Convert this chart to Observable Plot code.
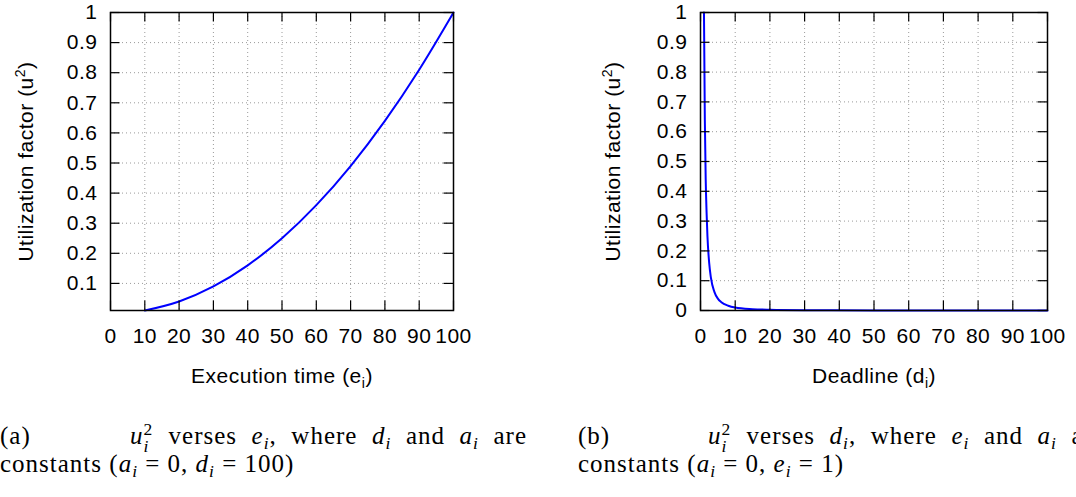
<!DOCTYPE html>
<html><head><meta charset="utf-8">
<script src="https://cdn.jsdelivr.net/npm/d3@7"></script>
<script src="https://cdn.jsdelivr.net/npm/@observablehq/plot@0.6"></script>
<style>
html,body{margin:0;padding:0;background:#fff;width:1076px;height:497px;overflow:hidden;}
#wrap{position:relative;width:1076px;height:497px;overflow:hidden;background:#fff;}
.panel{position:absolute;top:0;}
.cap{position:absolute;font-family:"Liberation Serif","Times New Roman",serif;font-size:25px;line-height:25px;color:#000;white-space:nowrap;letter-spacing:1px;}
.just{white-space:normal;text-align:justify;text-align-last:justify;}
.cap i{font-style:italic;}
.cap sub{font-size:0.7em;line-height:0;vertical-align:-0.3em;font-style:italic;}
.ss{position:relative;display:inline-block;width:0.42em;height:0;}
.ss .sp{position:absolute;left:0;bottom:0.3em;font-size:0.7em;line-height:1;}
.ss .sb{position:absolute;left:0;top:-0.35em;font-size:0.7em;line-height:1;font-style:italic;}
</style></head><body><div id="wrap"></div>
<script>
// ---- data ----
const executionTime = [10, 20, 30, 40, 50, 60, 70, 80, 90, 100];
const utilizationA  = [0.01, 0.04, 0.09, 0.16, 0.25, 0.36, 0.49, 0.64, 0.81, 1.0];
const deadline      = [1, 1.25, 1.5, 1.75, 2, 2.5, 3, 4, 5, 6, 8, 10, 15, 20, 30, 50, 100];
const utilizationB  = [1.0, 0.64, 0.44, 0.33, 0.25, 0.16, 0.11, 0.0625, 0.04, 0.028, 0.016, 0.01, 0.0045, 0.0025, 0.0011, 0.0004, 0.0001];
const xTicks  = [0, 10, 20, 30, 40, 50, 60, 70, 80, 90, 100];
const yTicksA = [0.1, 0.2, 0.3, 0.4, 0.5, 0.6, 0.7, 0.8, 0.9, 1];
const yTicksB = [0, 0.1, 0.2, 0.3, 0.4, 0.5, 0.6, 0.7, 0.8, 0.9, 1];
const yTitle  = "Utilization factor (u^2)";
const xTitleA = "Execution time (e_i)";
const xTitleB = "Deadline (d_i)";

function richify(svg) {
  d3.select(svg).selectAll("text").each(function () {
    const s = this.textContent;
    const m = s.match(/^(.*)([\^_])(\w)(.*)$/);
    if (!m) return;
    const up = m[2] === "^";
    const sh = up ? -8 : 5;
    this.innerHTML = `${m[1]}<tspan dy="${sh}" font-size="14">${m[3]}</tspan><tspan dy="${-sh}">${m[4]}</tspan>`;
  });
}

function panel({xs, ys, yTicks, yDomain, xTitle, width, marginLeft, marginRight, titleDx}) {
  const H = 400, mt = 12, mb = 90, T = 9.5;
  const fw = width - marginLeft - marginRight, fh = H - mt - mb;
  const data = xs.map((x, i) => ({x, u: ys[i]}));
  const ink = "#000";
  const svg = Plot.plot({
    width, height: H, marginLeft, marginRight, marginTop: mt, marginBottom: mb,
    x: {domain: [0, 100]},
    y: {domain: yDomain},
    style: {fontFamily: '"Liberation Sans", Arial, sans-serif', fontSize: "21px", color: "#000",
            background: "transparent", letterSpacing: "0.5px", overflow: "visible"},
    marks: [
      Plot.gridX(xTicks, {stroke: "#9a9a9a", strokeOpacity: 1, strokeWidth: 1, strokeDasharray: "1,3"}),
      Plot.gridY(yTicks, {stroke: "#9a9a9a", strokeOpacity: 1, strokeWidth: 1, strokeDasharray: "1,3"}),
      Plot.line(data, {x: "x", y: "u", stroke: "#0000ff", strokeWidth: 2, curve: "monotone-x"}),
      Plot.tickX(xTicks, {x: d => d, insetTop: fh - T, stroke: ink, strokeWidth: 1.2}),
      Plot.tickX(xTicks, {x: d => d, insetBottom: fh - T, stroke: ink, strokeWidth: 1.2}),
      Plot.tickY(yTicks, {y: d => d, insetRight: fw - T, stroke: ink, strokeWidth: 1.2}),
      Plot.tickY(yTicks, {y: d => d, insetLeft: fw - T, stroke: ink, strokeWidth: 1.2}),
      Plot.axisX(xTicks, {tickSize: 0, tickPadding: 18, label: null, fill: ink}),
      Plot.axisY(yTicks, {tickSize: 0, tickPadding: 13, label: null, fill: ink, tickFormat: d => String(+d.toFixed(1))}),
      Plot.text([xTitle], {frameAnchor: "bottom", dy: 72, lineAnchor: "bottom", textAnchor: "middle", fill: ink}),
      Plot.text([yTitle], {frameAnchor: "left", rotate: -90, dx: titleDx, lineAnchor: "bottom", textAnchor: "middle", fill: ink}),
      Plot.frame({stroke: ink, strokeWidth: 1.5})
    ]
  });
  richify(svg);
  return svg;
}

const wrap = document.getElementById("wrap");
const a = panel({xs: executionTime, ys: utilizationA, yTicks: yTicksA, yDomain: [0.01, 1], xTitle: xTitleA,
                 width: 540, marginLeft: 110, marginRight: 87, titleDx: -78});
a.classList.add("panel"); a.style.left = "0px"; wrap.appendChild(a);
const b = panel({xs: deadline, ys: utilizationB, yTicks: yTicksB, yDomain: [0, 1], xTitle: xTitleB,
                 width: 536, marginLeft: 160, marginRight: 29, titleDx: -81});
b.classList.add("panel"); b.style.left = "540px"; wrap.appendChild(b);

// ---- captions ----
const ui2 = '<i>u</i><span class="ss"><span class="sp">2</span><span class="sb">i</span></span>';
const v = (c) => `<i>${c}</i><sub>i</sub>`;
const caps = [
  {left: 0, top: 423, html: "(a)"},
  {left: 130, top: 423, width: 397, cls: "just", html: `${ui2} verses ${v("e")}, where ${v("d")} and ${v("a")} are`},
  {left: 0, top: 451, html: `constants (${v("a")} = 0, ${v("d")} = 100)`},
  {left: 578, top: 423, html: "(b)"},
  {left: 708, top: 423, width: 397, cls: "just", html: `${ui2} verses ${v("d")}, where ${v("e")} and ${v("a")} are`},
  {left: 578, top: 451, html: `constants (${v("a")} = 0, ${v("e")} = 1)`}
];
for (const c of caps) {
  const d = document.createElement("div");
  d.className = "cap" + (c.cls ? " " + c.cls : "");
  d.style.left = c.left + "px"; d.style.top = c.top + "px";
  if (c.width) d.style.width = c.width + "px";
  d.innerHTML = c.html;
  wrap.appendChild(d);
}
</script></body></html>
